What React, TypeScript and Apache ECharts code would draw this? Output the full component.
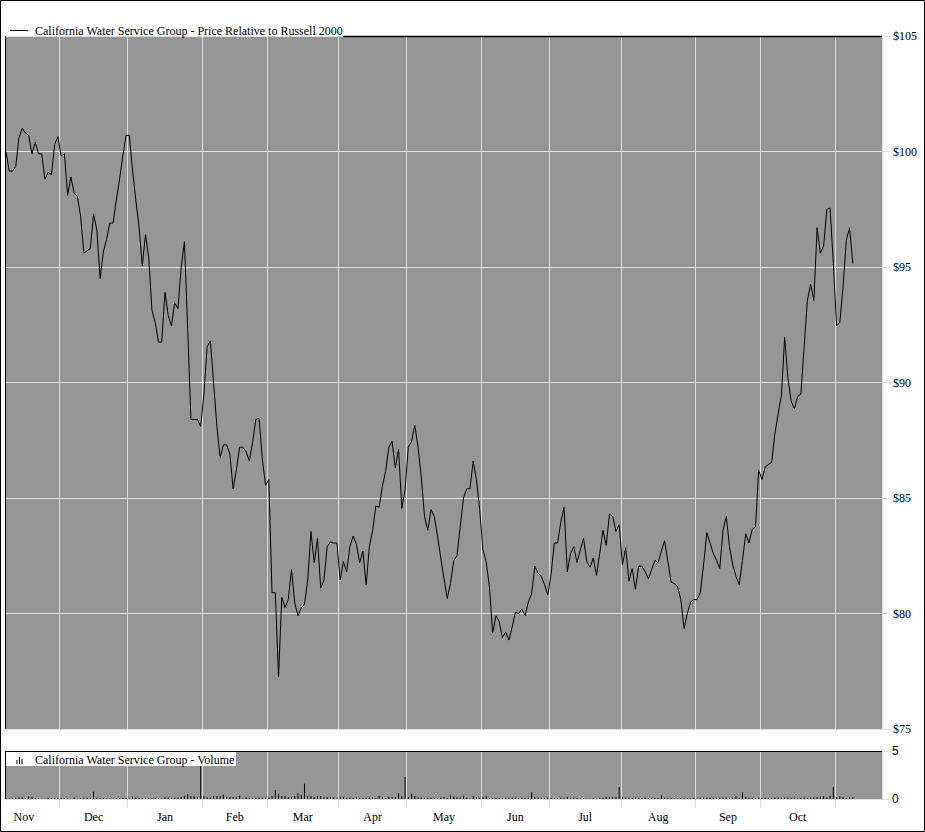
import React, { useEffect, useRef } from "react";
import * as echarts from "echarts";

// Daily closing values (price relative to Russell 2000), one per trading day
const priceValues: number[] = [
  100.0, 99.15, 99.15, 99.35, 100.6, 101.0, 100.8, 100.7, 99.9, 100.4,
  99.9, 99.9, 98.8, 99.1, 99.0, 100.3, 100.65, 99.8, 99.9, 98.1,
  98.9, 98.2, 98.05, 97.2, 95.6, 95.7, 95.8, 97.3, 96.6, 94.5,
  95.65, 96.2, 96.9, 96.9, 97.9, 98.8, 99.8, 100.7, 100.7, 99.2,
  97.9, 96.75, 95.05, 96.4, 95.4, 93.1, 92.6, 91.75, 91.75, 93.9,
  92.9, 92.45, 93.45, 93.2, 95.0, 96.1, 92.3, 88.4, 88.4, 88.4,
  88.1, 89.5, 91.55, 91.8, 89.95, 88.1, 86.75, 87.3, 87.3, 86.9,
  85.4, 86.2, 87.2, 87.2, 87.0, 86.6, 87.4, 88.4, 88.45, 86.7,
  85.55, 85.8, 80.9, 80.9, 77.25, 80.7, 80.25, 80.6, 81.9, 80.45,
  79.9, 80.25, 80.4, 81.45, 83.55, 82.2, 83.25, 81.1, 81.45, 82.9,
  83.1, 83.05, 83.05, 81.45, 82.25, 81.8, 82.9, 83.35, 83.0, 82.2,
  82.7, 81.25, 82.9, 83.6, 84.65, 84.6, 85.5, 86.15, 87.2, 87.45,
  86.3, 87.1, 84.55, 85.35, 87.2, 87.45, 88.15, 87.2, 85.9, 84.2,
  83.6, 84.5, 84.2, 83.35, 82.4, 81.5, 80.65, 81.3, 82.3, 82.5,
  83.75, 85.0, 85.4, 85.4, 86.6, 85.8, 84.5, 82.75, 82.25, 81.15,
  79.15, 79.9, 79.65, 78.95, 79.2, 78.85, 79.4, 80.05, 80.0, 80.2,
  79.9, 80.5, 80.85, 82.05, 81.75, 81.6, 81.25, 80.8, 81.7, 83.05,
  83.05, 83.95, 84.6, 81.8, 82.6, 82.9, 82.2, 82.75, 83.25, 82.25,
  82.0, 82.4, 81.65, 82.6, 83.6, 82.95, 84.3, 84.2, 83.55, 83.85,
  82.1, 82.85, 81.4, 81.95, 81.05, 82.05, 82.05, 81.8, 81.5, 81.9,
  82.3, 82.2, 82.7, 83.15, 82.25, 81.35, 81.3, 81.15, 80.6, 79.35,
  80.0, 80.5, 80.6, 80.6, 80.9, 82.1, 83.5, 83.05, 82.6, 82.3,
  81.95, 83.6, 84.2, 82.9, 82.1, 81.6, 81.25, 82.3, 83.45, 83.05,
  83.65, 83.75, 86.2, 85.8, 86.35, 86.45, 86.55, 87.8, 88.65, 89.45,
  91.95, 90.2, 89.2, 88.85, 89.4, 89.5, 91.55, 93.55, 94.25, 93.55,
  96.7, 95.6, 95.9, 97.5, 97.55, 95.15, 92.45, 92.6, 94.15, 96.15,
  96.7, 95.15,
];

// Daily volume (millions), one per trading day
const volumeValues: number[] = [
  0.05, 0.05, 0.05, 0.15, 0.15, 0.15, 0.1, 0.25, 0.2, 0.1,
  0.1, 0.03, 0.03, 0.1, 0.1, 0.1, 0.12, 0.1, 0.1, 0.05,
  0.03, 0.12, 0.03, 0.1, 0.12, 0.12, 0.08, 0.75, 0.12, 0.1,
  0.1, 0.1, 0.1, 0.03, 0.1, 0.1, 0.1, 0.1, 0.05, 0.25,
  0.15, 0.1, 0.1, 0.12, 0.1, 0.1, 0.12, 0.1, 0.05, 0.15,
  0.15, 0.12, 0.12, 0.15, 0.2, 0.35, 0.5, 0.3, 0.25, 0.2,
  3.45, 0.3, 0.18, 0.15, 0.3, 0.3, 0.3, 0.45, 0.2, 0.2,
  0.2, 0.18, 0.33, 0.05, 0.15, 0.12, 0.12, 0.12, 0.12, 0.12,
  0.15, 0.15, 0.3, 0.95, 0.55, 0.3, 0.35, 0.2, 0.2, 0.3,
  0.6, 0.45, 1.6, 0.3, 0.35, 0.2, 0.35, 0.3, 0.2, 0.2,
  0.2, 0.15, 0.05, 0.2, 0.2, 0.1, 0.12, 0.1, 0.15, 0.12,
  0.1, 0.12, 0.15, 0.2, 0.1, 0.35, 0.2, 0.1, 0.2, 0.2,
  0.2, 0.6, 0.3, 2.3, 0.2, 0.55, 0.3, 0.15, 0.12, 0.12,
  0.12, 0.12, 0.12, 0.1, 0.15, 0.2, 0.12, 0.4, 0.25, 0.17,
  0.15, 0.35, 0.12, 0.05, 0.28, 0.2, 0.12, 0.2, 0.28, 0.1,
  0.1, 0.1, 0.1, 0.1, 0.12, 0.12, 0.12, 0.15, 0.1, 0.12,
  0.1, 0.12, 0.7, 0.2, 0.15, 0.12, 0.12, 0.12, 0.1, 0.1,
  0.05, 0.15, 0.12, 0.2, 0.12, 0.15, 0.1, 0.03, 0.1, 0.03,
  0.03, 0.1, 0.03, 0.12, 0.12, 0.2, 0.2, 0.2, 0.2, 1.25,
  0.2, 0.12, 0.12, 0.1, 0.15, 0.12, 0.1, 0.12, 0.1, 0.12,
  0.1, 0.1, 0.4, 0.12, 0.1, 0.1, 0.1, 0.1, 0.1, 0.1,
  0.1, 0.05, 0.1, 0.05, 0.12, 0.15, 0.12, 0.12, 0.12, 0.12,
  0.12, 0.12, 0.15, 0.12, 0.12, 0.28, 0.12, 0.7, 0.22, 0.12,
  0.12, 0.1, 0.12, 0.1, 0.12, 0.12, 0.12, 0.12, 0.15, 0.12,
  0.15, 0.15, 0.12, 0.15, 0.12, 0.12, 0.15, 0.12, 0.15, 0.15,
  0.2, 0.25, 0.28, 0.18, 0.35, 1.25, 0.2, 0.28, 0.18, 0.1,
  0.18, 0.18,
];

// Trading-day slots per calendar month along the axis (first Nov is partial, last Nov is empty space)
const monthNames: string[] = ["Nov", "Dec", "Jan", "Feb", "Mar", "Apr", "May", "Jun", "Jul", "Aug", "Sep", "Oct", "Nov"];
const monthDayCounts: number[] = [17, 21, 23, 20, 22, 21, 23, 21, 22, 23, 20, 23, 15];
const typicalMonthDays = 22;

const priceMin = 75;
const priceMax = 105;
const priceStep = 5;
const volumeMin = 0;
const volumeMax = 5;

const GRID_COLOR = "#dedede";
const PLOT_BG = "#969696";
const SERIF = "'Liberation Serif', 'Times New Roman', serif";
const SANS = "'Liberation Sans', Arial, sans-serif";

// half-day slots: data sit on even slots, month boundaries on odd slots
const totalDays = monthDayCounts.reduce((a, b) => a + b, 0);
const slotCount = 2 * (totalDays - 1) + 1;
const slotCategories = Array.from({ length: slotCount }, (_, j) => String(j));
const boundarySet = new Set<number>();
const labelMap = new Map<number, string>();
{
  let start = 0;
  monthDayCounts.forEach((n, m) => {
    if (m > 0) boundarySet.add(2 * start - 1);
    if (m === 0) {
      labelMap.set(2 * (start + n) - 1 - typicalMonthDays, monthNames[m]);
    } else if (m < monthDayCounts.length - 1) {
      labelMap.set(2 * start + n - 1, monthNames[m]);
    }
    start += n;
  });
}

const priceSeriesData = slotCategories.map((_, j) =>
  j % 2 === 0 && j / 2 < priceValues.length ? priceValues[j / 2] : null
);
const volumeSeriesData = slotCategories.map((_, j) =>
  j % 2 === 0 && j / 2 < volumeValues.length ? volumeValues[j / 2] : null
);

function makeXAxis(gridIndex: number, showLabels: boolean) {
  return {
    type: "category" as const,
    gridIndex,
    data: slotCategories,
    boundaryGap: false,
    axisLine: { show: false },
    axisTick: {
      show: showLabels,
      interval: (i: number) => boundarySet.has(i),
      length: 9,
      lineStyle: { color: GRID_COLOR, width: 1 },
    },
    axisLabel: {
      show: showLabels,
      interval: (i: number) => labelMap.has(i),
      formatter: (v: string) => labelMap.get(Number(v)) ?? "",
      margin: 12,
      color: "#000",
      fontFamily: SERIF,
      fontSize: 12,
    },
    splitLine: {
      show: true,
      interval: (i: number) => boundarySet.has(i),
      lineStyle: { color: GRID_COLOR, width: 1 },
    },
  };
}

export default function App() {
  const ref = useRef<HTMLDivElement>(null);

  useEffect(() => {
    document.body.style.margin = "0";
    if (!ref.current) return;
    const chart = echarts.init(ref.current, undefined, { renderer: "svg" });

    const option: any = {
      animation: false,
      backgroundColor: "#fff",
      grid: [
        { left: 6, right: 43, top: 36, height: 693, show: true, backgroundColor: PLOT_BG, borderWidth: 0 },
        { left: 6, right: 43, top: 751, height: 48, show: true, backgroundColor: PLOT_BG, borderWidth: 0 },
      ],
      xAxis: [makeXAxis(0, false), makeXAxis(1, true)],
      yAxis: [
        {
          type: "value",
          gridIndex: 0,
          position: "right",
          min: priceMin,
          max: priceMax,
          interval: priceStep,
          axisLine: { show: true, lineStyle: { color: GRID_COLOR } },
          axisTick: { show: true, length: 9, lineStyle: { color: GRID_COLOR } },
          axisLabel: {
            formatter: (v: number) => "$" + v,
            margin: 11,
            color: "#000",
            fontFamily: SERIF,
            fontSize: 12,
          },
          splitLine: { show: true, lineStyle: { color: GRID_COLOR, width: 1 } },
        },
        {
          type: "value",
          gridIndex: 1,
          position: "right",
          min: volumeMin,
          max: volumeMax,
          interval: volumeMax - volumeMin,
          axisLine: { show: true, lineStyle: { color: GRID_COLOR } },
          axisTick: { show: true, length: 9, lineStyle: { color: GRID_COLOR } },
          axisLabel: {
            margin: 10,
            color: "#000",
            fontFamily: SANS,
            fontSize: 12,
          },
          splitLine: { show: true, lineStyle: { color: GRID_COLOR, width: 1 } },
        },
      ],
      series: [
        {
          name: "California Water Service Group - Price Relative to Russell 2000",
          type: "line",
          xAxisIndex: 0,
          yAxisIndex: 0,
          data: priceSeriesData,
          connectNulls: true,
          showSymbol: false,
          symbol: "none",
          lineStyle: { color: "#000", width: 1 },
          z: 5,
        },
        {
          name: "California Water Service Group - Volume",
          type: "bar",
          xAxisIndex: 1,
          yAxisIndex: 1,
          data: volumeSeriesData,
          barWidth: 1,
          itemStyle: { color: "#000" },
          z: 5,
        },
      ],
      graphic: [
        // outer frame
        { type: "rect", z: 100, silent: true, shape: { x: 0.5, y: 0.5, width: 924, height: 831 }, style: { fill: "none", stroke: "#000", lineWidth: 1 } },
        // price panel frame (top & left)
        { type: "line", z: 100, silent: true, shape: { x1: 343, y1: 36.5, x2: 882, y2: 36.5 }, style: { stroke: "#000", lineWidth: 1.3 } },
        { type: "line", z: 100, silent: true, shape: { x1: 5.5, y1: 36, x2: 5.5, y2: 729 }, style: { stroke: "#000", lineWidth: 1 } },
        // price legend
        { type: "line", z: 100, silent: true, shape: { x1: 10, y1: 30.5, x2: 28, y2: 30.5 }, style: { stroke: "#000", lineWidth: 1 } },
        {
          type: "text", z: 100, silent: true, x: 35, y: 30.5,
          style: { text: "California Water Service Group - Price Relative to Russell 2000", fill: "#000", font: `12px ${SERIF}`, verticalAlign: "middle", align: "left" },
        },
        // volume panel frame (top & left)
        { type: "line", z: 100, silent: true, shape: { x1: 5, y1: 751.5, x2: 882, y2: 751.5 }, style: { stroke: "#000", lineWidth: 1 } },
        { type: "line", z: 100, silent: true, shape: { x1: 5.5, y1: 751, x2: 5.5, y2: 799 }, style: { stroke: "#000", lineWidth: 1 } },
        // volume legend
        { type: "rect", z: 100, silent: true, shape: { x: 6, y: 752, width: 230, height: 14 }, style: { fill: "#fff" } },
        { type: "rect", z: 101, silent: true, shape: { x: 16.5, y: 760, width: 1, height: 4 }, style: { fill: "#000" } },
        { type: "rect", z: 101, silent: true, shape: { x: 19, y: 757, width: 1, height: 7 }, style: { fill: "#000" } },
        { type: "rect", z: 101, silent: true, shape: { x: 21.5, y: 759, width: 1, height: 5 }, style: { fill: "#000" } },
        {
          type: "text", z: 101, silent: true, x: 35, y: 759.5,
          style: { text: "California Water Service Group - Volume", fill: "#000", font: `12px ${SERIF}`, verticalAlign: "middle", align: "left" },
        },
      ],
    };

    chart.setOption(option);
    return () => chart.dispose();
  }, []);

  return <div ref={ref} style={{ width: 925, height: 832 }} />;
}
